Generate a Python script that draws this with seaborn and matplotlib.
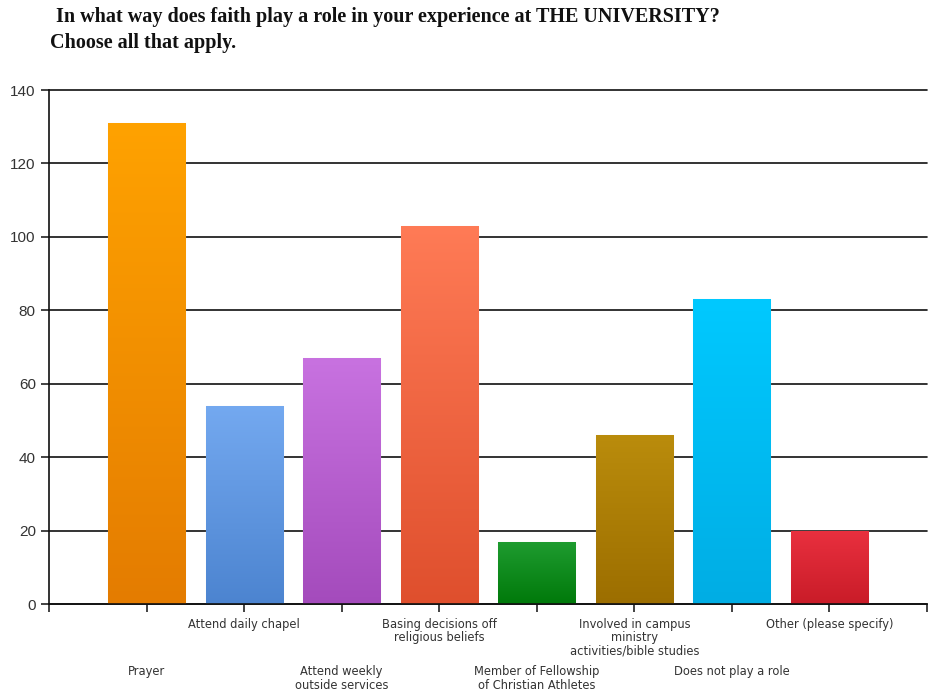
import numpy as np
import matplotlib
matplotlib.use("Agg")
import matplotlib.pyplot as plt
import matplotlib.colors as mcolors
import seaborn as sns
import pandas as pd

# survey answers and counts
answers = [
    "Prayer",
    "Attend daily chapel",
    "Attend weekly\noutside services",
    "Basing decisions off\nreligious beliefs",
    "Member of Fellowship\nof Christian Athletes",
    "Involved in campus\nministry\nactivities/bible studies",
    "Does not play a role",
    "Other (please specify)",
]
counts = [131, 54, 67, 103, 17, 46, 83, 20]

# top / bottom colours of each bar's gradient
top_colors = ["#ffa200", "#74a9f0", "#c872e0", "#ff7b56", "#1f9c30", "#ba8c0c", "#00c9ff", "#e9303f"]
bottom_colors = ["#e47c00", "#4c84d0", "#a44bbc", "#df4f2d", "#00790a", "#9c6e00", "#00ade4", "#c91c28"]

df = pd.DataFrame({"answer": answers, "count": counts})

sns.set_style("white")
plt.rcParams["font.family"] = ["DejaVu Sans"]

fig = plt.figure(figsize=(9.31, 6.98), dpi=100)
ax = fig.add_axes([49 / 931, 1 - 604 / 698, (927 - 49) / 931, (604 - 90) / 698])

ax = sns.barplot(data=df, x="answer", y="count", hue="answer", palette=top_colors,
                 legend=False, width=0.79, edgecolor="#e0e0e0", linewidth=0.8, ax=ax)

# gradient fill clipped to each bar
for patch, c_top, c_bot in zip(ax.patches, top_colors, bottom_colors):
    x0, y0 = patch.get_x(), patch.get_y()
    w, h = patch.get_width(), patch.get_height()
    cmap = mcolors.LinearSegmentedColormap.from_list("g", [c_bot, c_top])
    grad = np.linspace(0, 1, 256).reshape(-1, 1)
    im = ax.imshow(grad, cmap=cmap, aspect="auto", origin="lower",
                   extent=[x0, x0 + w, y0, y0 + h], zorder=patch.get_zorder())
    im.set_clip_path(patch)

ax.set_xlim(-1, 8)
ax.set_ylim(0, 140)
ax.set_yticks(range(0, 141, 20))
ax.yaxis.grid(True, color="#111111", linewidth=1.2)
for gl in ax.get_ygridlines():
    gl.set_clip_on(False)
ax.set_axisbelow(True)

ax.set_xticks(range(-1, 9))
ax.set_xticklabels([""] + answers + [""], fontsize=8.3, color="#333333", va="top",
                   linespacing=1.05)
for i, t in enumerate(ax.xaxis.get_major_ticks()):
    idx = i - 1
    if 0 <= idx < len(answers) and idx % 2 == 0:
        t.set_pad(38)
    else:
        t.set_pad(4)

ax.tick_params(axis="x", length=6, width=1.2, color="#222222", direction="out", bottom=True)
ax.tick_params(axis="y", length=6, width=1.2, color="#222222", direction="out", left=True,
               labelsize=11, labelcolor="#333333")
for lab in ax.get_yticklabels():
    lab.set_family(["Liberation Sans"])

ax.set_xlabel("")
ax.set_ylabel("")
for side in ["top", "right"]:
    ax.spines[side].set_visible(False)
for side in ["left", "bottom"]:
    ax.spines[side].set_color("#111111")
    ax.spines[side].set_linewidth(1.2)

fig.text(56 / 931, 1 - 22 / 698,
         "In what way does faith play a role in your experience at THE UNIVERSITY?",
         family=["Liberation Serif"], weight="bold", fontsize=14.5, color="#111111")
fig.text(50 / 931, 1 - 48 / 698, "Choose all that apply.",
         family=["Liberation Serif"], weight="bold", fontsize=14.5, color="#111111")

fig.savefig("out.png", dpi=100, facecolor="white")
